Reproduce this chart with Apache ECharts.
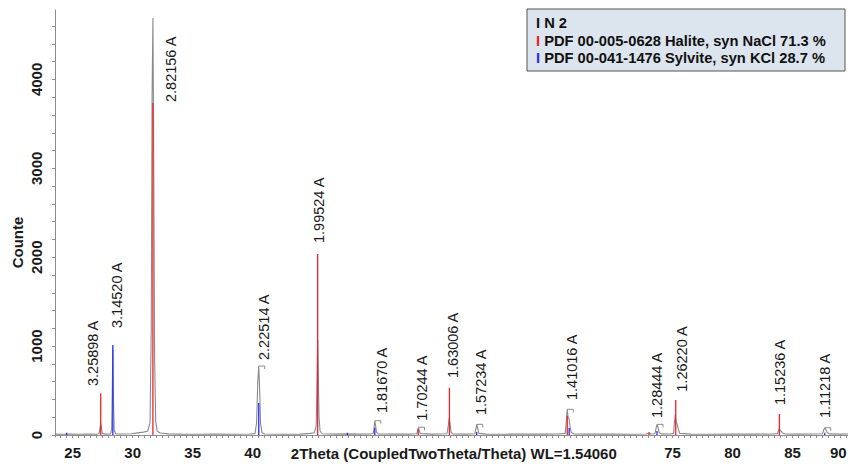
<!DOCTYPE html>
<html>
<head>
<meta charset="utf-8">
<script src="https://cdn.jsdelivr.net/npm/echarts@6/dist/echarts.min.js"></script>
<style>
html,body{margin:0;padding:0;background:#fff;}
#chart{width:848px;height:466px;}
</style>
</head>
<body>
<div id="chart"></div>
<script>
// ---- measured scan (2Theta, Counts) ----
const scanTheta = [23.53,24.2,24.8,25.5,26.3,27.0,27.2,27.28,27.34,27.40,27.48,27.7,28.15,28.25,28.31,28.35,28.40,28.47,28.6,29.3,29.9,30.4,30.9,31.25,31.45,31.55,31.62,31.69,31.75,31.83,31.92,32.05,32.3,33.0,34.0,35.5,37.0,38.5,39.7,40.2,40.33,40.43,40.51,40.58,40.66,40.78,41.0,42.5,44.0,44.8,45.15,45.3,45.37,45.42,45.47,45.53,45.62,45.8,46.8,47.9,48.8,49.8,50.05,50.12,50.18,50.25,50.32,50.45,51.8,53.0,53.68,53.76,53.82,53.88,53.96,55.0,56.2,56.3,56.38,56.45,56.53,56.65,57.8,58.52,58.61,58.68,58.75,58.85,59.5,61.0,62.5,64.2,65.5,66.05,66.14,66.22,66.29,66.37,66.45,66.55,66.75,68.0,70.0,71.5,72.8,73.03,73.2,73.52,73.62,73.70,73.78,73.88,74.05,74.8,75.08,75.15,75.22,75.30,75.40,75.48,75.6,76.5,78.0,80.0,82.0,83.3,83.75,83.84,83.90,83.97,84.07,84.15,84.4,85.5,86.8,87.5,87.6,87.68,87.77,87.88,88.05,89.0,89.62];
const scanCounts = [10,8,11,8,10,9,18,80,132,75,18,10,11,60,560,960,400,50,12,11,14,24,32,42,140,1200,3800,4691,3300,900,150,42,22,13,10,8,10,8,11,16,140,600,776,540,130,26,12,9,10,18,26,110,700,1069,740,210,45,14,10,13,10,11,16,80,161,105,32,13,10,10,14,55,87,55,16,10,14,100,191,135,38,13,10,14,70,120,80,18,10,9,11,10,11,18,150,289,200,180,95,28,13,10,11,9,12,22,12,14,75,120,90,28,13,12,18,140,225,145,112,65,18,10,9,11,10,11,16,58,75,48,42,22,12,10,11,14,60,82,60,28,13,10,11];

// ---- reference sticks ----
const haliteTheta  = [27.34, 31.69, 45.42, 53.80, 56.40, 66.22, 73.03, 75.26, 83.90];
const haliteCounts = [469, 3735, 2036, 67, 532, 214, 30, 394, 236];
const sylviteTheta  = [24.50, 28.35, 40.51, 47.90, 50.18, 58.67, 66.38, 73.70, 87.68];
const sylviteCounts = [25, 1012, 360, 25, 82, 35, 79, 45, 25];

// ---- d-spacing labels ----
const peakLabels = ['3.25898 A','3.14520 A','2.82156 A','2.22514 A','1.99524 A','1.81670 A','1.70244 A','1.63006 A','1.57234 A','1.41016 A','1.28444 A','1.26220 A','1.15236 A','1.11218 A'];
const labelTheta  = [26.70, 28.70, 33.18, 40.95, 45.56, 50.76, 54.09, 56.70, 59.03, 66.59, 73.68, 75.76, 83.95, 87.70];
const labelCounts = [551, 1204, 3746, 844, 2160, 247, 160, 641, 225, 394, 191, 487, 337, 191];
const bracketTheta  = [40.51, 50.18, 53.82, 58.68, 66.22, 73.70, 87.68];
const bracketCounts = [776, 161, 87, 120, 289, 120, 82];

// ---- axes ----
const xTickLabels = [25, 30, 35, 40, 75, 80, 85, 90];
const yTickLabels = [0, 1000, 2000, 3000, 4000];
const xName = '2Theta (CoupledTwoTheta/Theta) WL=1.54060';
const yName = 'Counte';
const legendLines = ['N 2', 'PDF 00-005-0628 Halite, syn NaCl 71.3 %', 'PDF 00-041-1476 Sylvite, syn KCl 28.7 %'];

const FONT = '"Liberation Sans", Arial, sans-serif';
const xMinorTicks = [];
for (let v = 24; v <= 90.001; v += 0.5) xMinorTicks.push(+v.toFixed(1));
const yMinorTicks = [];
for (let v = 0; v <= 4600; v += 200) yMinorTicks.push(v);
const lastXLabel = xTickLabels[xTickLabels.length - 1];

const chart = echarts.init(document.getElementById('chart'), null, {renderer: 'svg'});

function stickSeries(name, th, ct, color) {
  return {
    type: 'custom', name: name, clip: false, z: 3,
    data: th.map((t, i) => [t, ct[i]]),
    encode: {x: 0, y: 1},
    renderItem: function (params, api) {
      const p0 = api.coord([api.value(0), 0]);
      const p1 = api.coord([api.value(0), api.value(1)]);
      return {type: 'line', shape: {x1: p0[0], y1: p0[1], x2: p1[0], y2: p1[1]},
              style: {stroke: color, lineWidth: 1.3}};
    }
  };
}

const option = {
  animation: false,
  backgroundColor: '#ffffff',
  grid: {left: 55, top: 10, bottom: 29, width: 797.6, containLabel: false, outerBoundsMode: 'none'},
  xAxis: {
    type: 'value', min: 23.53, max: 90,
    name: xName, nameLocation: 'middle', nameGap: 9, nameMoveOverlap: false,
    nameTextStyle: {fontFamily: FONT, fontWeight: 'bold', fontSize: 15, color: '#1a1a1a', verticalAlign: 'top'},
    axisLine: {show: true, lineStyle: {color: '#8c8c8c', width: 1}},
    axisTick: {show: true, customValues: xMinorTicks, length: 3, lineStyle: {color: '#8c8c8c'}},
    axisLabel: {customValues: xTickLabels,
                formatter: v => (v === lastXLabel ? '{e|' + v + '}' : String(v)),
                alignMaxLabel: 'right', fontFamily: FONT, fontWeight: 'bold', fontSize: 15, color: '#1a1a1a', margin: 8,
                rich: {e: {fontFamily: FONT, fontWeight: 'bold', fontSize: 15, color: '#1a1a1a', padding: [0, 6, 0, 0]}}},
    splitLine: {show: false}
  },
  yAxis: {
    type: 'value', min: -22.5, max: 4781,
    name: yName, nameLocation: 'middle', nameGap: 30, nameMoveOverlap: false,
    nameTextStyle: {fontFamily: FONT, fontWeight: 'bold', fontSize: 15, color: '#1a1a1a', padding: [0, 38, 0, 0]},
    axisLine: {show: true, lineStyle: {color: '#8c8c8c', width: 1}},
    axisTick: {show: true, customValues: yMinorTicks, length: 3, lineStyle: {color: '#8c8c8c'}},
    axisLabel: {customValues: yTickLabels, formatter: v => String(v), rotate: 90, fontFamily: FONT, fontWeight: 'bold', fontSize: 15, color: '#1a1a1a', margin: 11},
    splitLine: {show: false}
  },
  series: [
    {
      type: 'line', name: 'N 2', z: 2,
      data: scanTheta.map((t, i) => [t, scanCounts[i]]),
      showSymbol: false, smooth: false,
      lineStyle: {color: '#8a8a8a', width: 1.1},
      emphasis: {disabled: true}
    },
    stickSeries('Halite', haliteTheta, haliteCounts, '#ee2229'),
    stickSeries('Sylvite', sylviteTheta, sylviteCounts, '#1f2bff'),
    {
      type: 'custom', name: 'brackets', clip: false, z: 4,
      data: bracketTheta.map((t, i) => [t, bracketCounts[i]]),
      encode: {x: 0, y: 1},
      renderItem: function (params, api) {
        const p = api.coord([api.value(0), api.value(1)]);
        return {type: 'polyline',
                shape: {points: [[p[0], p[1]], [p[0] + 6, p[1]], [p[0] + 6, p[1] + 3]]},
                style: {stroke: '#8a8a8a', fill: null, lineWidth: 1}};
      }
    },
    {
      type: 'custom', name: 'labels', clip: false, z: 5,
      data: labelTheta.map((t, i) => [t, labelCounts[i]]),
      encode: {x: 0, y: 1},
      renderItem: function (params, api) {
        const p = api.coord([api.value(0), api.value(1)]);
        return {type: 'text', x: p[0], y: p[1], rotation: Math.PI / 2,
                style: {text: peakLabels[params.dataIndex], x: 0, y: 0,
                        align: 'left', verticalAlign: 'middle',
                        fontFamily: FONT, fontSize: 14.5, fill: '#1a1a1a'}};
      }
    }
  ],
  graphic: [
    {type: 'rect', shape: {x: 527, y: 9, width: 318, height: 62},
     style: {fill: '#dce4ee', stroke: '#555555', lineWidth: 1}, z: 10},
    {type: 'text', x: 536, y: 22.7, z: 11,
     style: {text: '{k|I} ' + legendLines[0], verticalAlign: 'middle', fontFamily: FONT, fontWeight: 'bold', fontSize: 14.7, fill: '#111',
             rich: {k: {fill: '#111', fontFamily: FONT, fontWeight: 'bold', fontSize: 14.7}}}},
    {type: 'text', x: 536, y: 40.5, z: 11,
     style: {text: '{r|I} ' + legendLines[1], verticalAlign: 'middle', fontFamily: FONT, fontWeight: 'bold', fontSize: 14.7, fill: '#111',
             rich: {r: {fill: '#ee2229', fontFamily: FONT, fontWeight: 'bold', fontSize: 14.7}}}},
    {type: 'text', x: 536, y: 58.3, z: 11,
     style: {text: '{b|I} ' + legendLines[2], verticalAlign: 'middle', fontFamily: FONT, fontWeight: 'bold', fontSize: 14.7, fill: '#111',
             rich: {b: {fill: '#1f2bff', fontFamily: FONT, fontWeight: 'bold', fontSize: 14.7}}}}
  ]
};
chart.setOption(option);
</script>
</body>
</html>
